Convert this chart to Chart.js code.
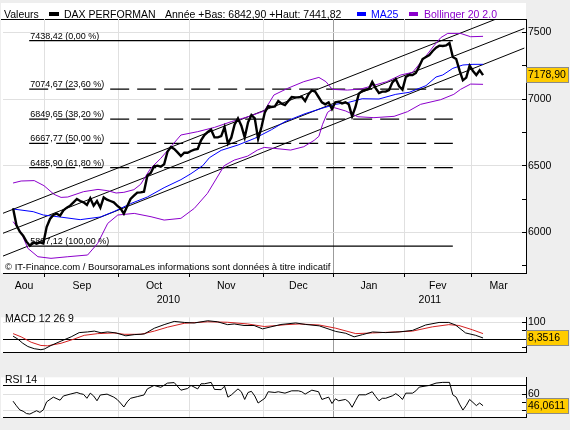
<!DOCTYPE html>
<html>
<head>
<meta charset="utf-8">
<title>DAX PERFORMAN</title>
<script src="https://cdn.jsdelivr.net/npm/chart.js@4.4.1/dist/chart.umd.min.js"></script>
<style>
  html, body { margin: 0; padding: 0; background: #eeeeee; }
  #wrap { position: relative; width: 570px; height: 430px; overflow: hidden; }
  canvas { position: absolute; left: 0; }
</style>
</head>
<body>
<div id="wrap">
  <canvas id="mainChart" width="570" height="305" style="top:0px"></canvas>
  <canvas id="macdChart" width="570" height="60" style="top:305px"></canvas>
  <canvas id="rsiChart" width="570" height="65" style="top:365px"></canvas>
</div>
<script>
// x = trading day index (0 = 18 aout 2010, 140 = 4 mars 2011)
const monthNames = ['Aou', 'Sep', 'Oct', 'Nov', 'Dec', 'Jan', 'Fev', 'Mar'];
const monthBreaks = [9.5, 31.5, 52.5, 74.5, 95.5, 116.5, 136.5];
const yearNames = ['2010', '2011'];
const yearBreak = 95.5;
const X_MIN = -3, X_MAX = 152.8;

// DAX close
const closeValues = [
  6180, 6055, 6005, 5975, 5930, 5900, 5925, 5915, 5925, 5917,
  6040, 6100, 6130, 6140, 6125, 6165, 6185, 6200, 6225, 6250,
  6235, 6225, 6205, 6255, 6200, 6235, 6185, 6262, 6245, 6235,
  6225, 6200, 6180, 6140, 6195, 6250, 6275, 6298, 6300, 6305,
  6425, 6445, 6495, 6500, 6492, 6510, 6605, 6640, 6625, 6600,
  6572, 6597, 6597, 6610, 6620, 6625, 6690, 6730, 6752, 6770,
  6712, 6712, 6722, 6790, 6667, 6710, 6810, 6855, 6800, 6712,
  6825, 6880, 6855, 6700, 6790, 6900, 6947, 6940, 6945, 6985,
  6965, 6955, 6985, 7015, 7012, 7012, 7017, 6985, 7035, 7065,
  7055, 7015, 6975, 6960, 6975, 6925, 6975, 6980, 6967, 6975,
  6960, 6870, 6940, 7040, 7060, 7068, 7075, 7128, 7082, 7045,
  7055, 7055, 7067, 7125, 7150, 7095, 7070, 7165, 7180, 7180,
  7195, 7245, 7300, 7315, 7330, 7360, 7385, 7400, 7398, 7402,
  7420, 7315, 7300, 7215, 7140, 7160, 7250, 7210, 7180, 7215,
  7178.90
];

// MA25
const maIdx = [0, 6, 9, 14, 20, 26, 30, 35, 40, 45, 50, 53, 56.5, 58.5, 62, 67, 72, 77, 81, 87,
  92, 96, 100, 104, 109, 114, 118, 121, 123, 126, 128, 131, 134, 137, 140];
const maValues = [6175, 6155, 6130, 6115, 6095, 6115, 6155, 6215, 6265, 6335, 6395, 6440, 6500, 6560, 6615, 6655, 6705, 6770, 6830, 6890,
  6930, 6960, 6975, 7002, 7000, 7035, 7050, 7080, 7100, 7165, 7180, 7230, 7255, 7260, 7260];

// Bollinger 20 2.0
const bollUpIdx = [0, 2.4, 6.3, 9.2, 12.2, 14.3, 16.3, 21, 25.3, 28.2, 30.7, 33, 36, 38, 41, 44, 47, 50, 55, 60,
  65, 70, 74.8, 77.7, 81.8, 86.6, 91.1, 93.2, 95.1, 99.6, 103.6, 106.5, 111.3, 115.5, 119, 122.3, 125.4, 127.4, 129.5, 133.3,
  136.3, 140];
const bollUpValues = [6370, 6385, 6388, 6350, 6285, 6262, 6265, 6305, 6322, 6312, 6295, 6300, 6320, 6360, 6480, 6555, 6642, 6730, 6755, 6787,
  6830, 6867, 6910, 7030, 7080, 7130, 7162, 7130, 7072, 7067, 7075, 7095, 7130, 7180, 7200, 7300, 7400, 7460, 7492, 7492,
  7467, 7470];
const bollLowIdx = [0, 2.4, 4.4, 7.4, 11.3, 16.3, 22.2, 25.2, 28.2, 31.2, 36.1, 41.1, 45, 50, 54, 57.9, 62.9, 65.9, 69.9, 72.8,
  74.8, 77.7, 82.7, 86.6, 89.7, 91.1, 92.2, 93.7, 95.7, 99.1, 102.7, 107.5, 113.5, 117.5, 121.4, 127.4, 131.3, 133.3, 136.3, 140];
const bollLowValues = [6080, 6000, 5880, 5817, 5805, 5817, 5830, 5917, 6067, 6130, 6142, 6117, 6092, 6105, 6180, 6292, 6500, 6542, 6572, 6617,
  6637, 6630, 6617, 6642, 6690, 6720, 6810, 6900, 6935, 6910, 6867, 6860, 6870, 6905, 6960, 6995, 7035, 7072, 7112, 7110];

// Fibonacci retracements
const fibLevels = [7438.42, 7074.67, 6849.65, 6667.77, 6485.90, 5897.12];
const fibPercents = [0, 23.6, 38.2, 50, 61.8, 100];
const fibDashed = [false, true, true, true, true, false];
const fibRange = [4.8, 131];

// trend channel
const channelIdx = [-3, 152.3];
const channelUpper = [6143, 7683];
const channelMiddle = [5993, 7529];
const channelLower = [5822, 7382];

const priceTicks = [5750, 6000, 6250, 6500, 6750, 7000, 7250, 7500];
const yearLow = 6842.90, yearHigh = 7441.82;

// MACD 12 26 9
const macdIdx = [0, 1.4, 2.9, 4.4, 6.3, 8.3, 9.3, 11.3, 14.3, 17.3, 19.7, 22.2, 24.2, 26.2, 28.2, 30.7, 33.6, 36.1, 39.1, 42.1,
  45, 48, 51, 54, 58, 60.9, 63.9, 65.9, 68.8, 71.8, 74.3, 76.8, 79.8, 81.3, 84.2, 87.2, 91.2, 96.1, 99.1, 101.6,
  104.1, 107.1, 111, 115, 119, 122.9, 126.9, 129.8, 131.8, 134.8, 137.8, 140];
const macdValues = [19, 2, -23, -42, -55, -61, -57, -36, -10, 15, 40, 44, 49, 39, 44, 38, 21, 28, 32, 66,
  87, 106, 100, 97, 110, 104, 87, 91, 82, 82, 62, 74, 88, 91, 97, 88, 80, 47, 36, 15,
  28, 44, 40, 44, 53, 85, 100, 100, 85, 38, 24, 8.3516];
const signalIdx = [0, 2.4, 5.4, 8.3, 10.3, 14.3, 18.2, 21.2, 25.2, 30.1, 33.1, 38.1, 42.1, 46, 51, 58, 63.9, 69.9, 74.8, 78.8,
  81.3, 85.2, 91.2, 96.1, 102.1, 107.1, 114, 119, 124.9, 129.8, 132.8, 136.8, 140];
const signalValues = [34, 15, -17, -36, -38, -23, 2, 24, 34, 38, 30, 30, 49, 72, 95, 104, 101, 91, 76, 82,
  87, 91, 85, 66, 34, 38, 44, 49, 74, 87, 82, 57, 34];
const macdTicks = [-50, 0, 50, 100];

// RSI 14
const rsiIdx = [0, 1, 2, 3, 4, 5, 6, 7, 8, 9, 10, 11, 12, 14, 15, 17, 19, 20, 21, 22,
  23, 24, 25, 26, 28, 30, 31, 32, 33, 34, 35, 37, 39, 40, 42, 44, 46, 48, 50, 52,
  53, 55, 56, 57, 59, 60, 62, 63, 64, 65, 67, 68, 69, 70, 71, 72, 73, 75, 76, 78,
  79, 81, 83, 85, 86, 87, 89, 91, 92, 93, 94, 95, 96, 97, 99, 100, 101, 102, 103, 105,
  107, 108, 109, 110, 111, 113, 114, 115, 116, 117, 119, 120, 121, 124, 126, 128, 130, 131, 132, 133,
  134, 135, 136, 137, 138, 139, 140];
const rsiValues = [51.5, 46, 41, 39.4, 36.6, 36, 38, 40, 38, 41, 50.7, 53.6, 56.4, 52.7, 57.8, 60, 62, 60.6, 59.7, 55,
  61.2, 57.8, 52, 59, 60, 56.4, 53.6, 49.3, 44.5, 50.7, 55, 57, 59, 66.3, 70.5, 68.2, 73.3, 73.9, 64.8, 66.8,
  70.5, 66.3, 72.5, 72.5, 74.2, 65.7, 65.4, 69.6, 56.4, 59, 66.3, 62.9, 53.6, 62, 63.4, 57.8, 49.3, 55, 62.9, 62,
  62.9, 61.2, 64, 64, 62.9, 60, 64.8, 62.9, 53.6, 55, 56.4, 48.7, 54.4, 52, 53.6, 50.7, 44.2, 52, 59.2, 59.2,
  62.9, 57.2, 52, 55, 55, 58, 60.6, 57.8, 53.6, 61.2, 61.2, 64, 68.5, 70.5, 73.3, 74.2, 74.2, 59.2, 56.4, 48,
  40.8, 46.4, 53.6, 50, 46.2, 49.3, 46.0611];
const rsiTicks = [40, 50, 60, 70];

const FONT = "'Liberation Sans', Arial, sans-serif";
const BLUE = '#0000ff', PURPLE = '#8c00cc', RED = '#d42020';
const GRID = '#e0e0e0', YEAR_GRID = '#9c9c9c', BG = '#eeeeee';

Chart.defaults.font.family = FONT;
Chart.defaults.font.size = 10.5;
Chart.defaults.color = '#000';

function pts(idx, vals) {
  return idx.map((x, i) => ({ x: x, y: vals[i] }));
}
function fr(v, d) {
  return v.toFixed(d).replace('.', ',');
}
function lineSet(data, color, width, dash) {
  return {
    data: data, borderColor: color, borderWidth: width, borderDash: dash || [],
    pointRadius: 0, tension: 0, fill: false
  };
}

function xAxis(height, drawTicks) {
  return {
    type: 'linear', min: X_MIN, max: X_MAX,
    afterBuildTicks: s => { s.ticks = monthBreaks.map(v => ({ value: v })); },
    ticks: { display: false },
    grid: {
      color: c => (c.tick && c.tick.value === yearBreak) ? YEAR_GRID : GRID,
      drawTicks: drawTicks, tickLength: 4, tickColor: '#000'
    },
    border: { display: true, color: '#000' },
    afterFit: s => { s.height = height; }
  };
}

function yAxis(min, max, ticks, labelStep, gridColor) {
  return {
    type: 'linear', position: 'right', min: min, max: max,
    afterBuildTicks: s => { s.ticks = ticks.map(v => ({ value: v })); },
    ticks: {
      autoSkip: false, padding: 6,
      callback: v => (v % labelStep === 0 ? String(v) : '')
    },
    grid: { color: gridColor, tickLength: -4, tickColor: '#000' },
    border: { display: true, color: '#000' },
    afterFit: s => { s.width = 44; }
  };
}

function paintPanel(chart) {
  const { ctx, chartArea: a } = chart;
  ctx.save();
  ctx.fillStyle = BG;
  ctx.fillRect(0, 0, chart.width, chart.height);
  ctx.fillStyle = '#ffffff';
  ctx.fillRect(1, a.top, a.right - 1, a.bottom - a.top);
  ctx.restore();
}

function valueBox(chart, value, text) {
  const { ctx, chartArea: a } = chart;
  const y = Math.round(chart.scales.y.getPixelForValue(value));
  ctx.save();
  ctx.fillStyle = '#ffcc00';
  ctx.fillRect(a.right, y - 8, 43, 16);
  ctx.strokeStyle = '#8a8a8a';
  ctx.lineWidth = 1;
  ctx.strokeRect(a.right + 0.5, y - 7.5, 42, 15);
  ctx.fillStyle = '#000';
  ctx.font = '10.5px ' + FONT;
  ctx.textAlign = 'left';
  ctx.textBaseline = 'middle';
  ctx.fillText(text, a.right + 2, y + 0.5);
  ctx.restore();
}

function panelLabel(chart, text, y) {
  const ctx = chart.ctx;
  ctx.save();
  ctx.fillStyle = '#000';
  ctx.font = '10.5px ' + FONT;
  ctx.textAlign = 'left';
  ctx.textBaseline = 'alphabetic';
  ctx.fillText(text, 5, y);
  ctx.restore();
}

const mainDecor = {
  id: 'mainDecor',
  beforeDraw(chart) {
    const { ctx, chartArea: a } = chart;
    ctx.save();
    ctx.fillStyle = BG;
    ctx.fillRect(0, 0, chart.width, chart.height);
    ctx.fillStyle = '#ffffff';
    ctx.fillRect(1, 3, a.right - 1, a.bottom - 3);
    ctx.strokeStyle = '#000';
    ctx.lineWidth = 1;
    ctx.beginPath();
    ctx.moveTo(1, a.top + 0.5);
    ctx.lineTo(a.right, a.top + 0.5);
    ctx.stroke();
    ctx.restore();
  },
  afterDatasetsDraw(chart) {
    const { ctx, scales: { x, y } } = chart;
    ctx.save();
    ctx.fillStyle = '#000';
    ctx.font = '9px ' + FONT;
    ctx.textAlign = 'left';
    ctx.textBaseline = 'alphabetic';
    fibLevels.forEach((lv, i) => {
      const txt = fr(lv, 2) + ' (' + fr(fibPercents[i], 2) + ' %)';
      ctx.fillText(txt, x.getPixelForValue(fibRange[0]) + 1, y.getPixelForValue(lv) - 2);
    });
    ctx.font = '9.5px ' + FONT;
    ctx.textBaseline = 'middle';
    ctx.fillText('\u00a9 IT-Finance.com / BoursoramaLes informations sont donn\u00e9es \u00e0 titre indicatif', 5, 267);
    ctx.restore();
  },
  afterDraw(chart) {
    const { ctx, scales: { x } } = chart;
    ctx.save();
    ctx.font = '10.5px ' + FONT;
    ctx.textBaseline = 'alphabetic';
    ctx.textAlign = 'left';
    // header
    ctx.fillStyle = '#000';
    ctx.fillText('Valeurs', 4, 17.5);
    ctx.fillRect(49, 12, 10, 4);
    ctx.fillText('DAX PERFORMAN', 64, 17.5);
    ctx.fillText('Ann\u00e9e +Bas: ' + fr(yearLow, 2) + ' +Haut: ' + fr(yearHigh, 2), 165, 17.5);
    ctx.fillStyle = BLUE;
    ctx.fillRect(357, 12, 9, 4);
    ctx.fillText('MA25', 371, 17.5);
    ctx.fillStyle = PURPLE;
    ctx.fillRect(409, 12, 9, 4);
    ctx.fillText('Bollinger 20 2.0', 424, 17.5);
    // months and years
    ctx.fillStyle = '#000';
    ctx.textAlign = 'center';
    const edges = [X_MIN].concat(monthBreaks, [X_MAX]);
    monthNames.forEach((m, i) => {
      const cx = (x.getPixelForValue(edges[i]) + x.getPixelForValue(edges[i + 1])) / 2;
      ctx.fillText(m, cx, 288.5);
    });
    const yEdges = [X_MIN, yearBreak, X_MAX];
    yearNames.forEach((yr, i) => {
      const cx = (x.getPixelForValue(yEdges[i]) + x.getPixelForValue(yEdges[i + 1])) / 2;
      ctx.fillText(yr, cx, 303);
    });
    ctx.restore();
    valueBox(chart, closeValues[closeValues.length - 1], fr(closeValues[closeValues.length - 1], 2));
  }
};

const closePts = closeValues.map((v, i) => ({ x: i, y: v }));
const mainSets = [
  lineSet(closePts, '#000', 2.4),
  lineSet(pts(maIdx, maValues), BLUE, 1),
  lineSet(pts(bollUpIdx, bollUpValues), PURPLE, 1),
  lineSet(pts(bollLowIdx, bollLowValues), PURPLE, 1),
  lineSet(pts(channelIdx, channelUpper), '#000', 1),
  lineSet(pts(channelIdx, channelMiddle), '#000', 1),
  lineSet(pts(channelIdx, channelLower), '#000', 1)
];
fibLevels.forEach((lv, i) => {
  mainSets.push(lineSet(pts(fibRange, [lv, lv]), '#000', 1.3, fibDashed[i] ? [19, 8] : []));
});

new Chart(document.getElementById('mainChart'), {
  type: 'line',
  data: { datasets: mainSets },
  options: {
    responsive: false, animation: false, devicePixelRatio: 1, events: [],
    layout: { padding: { left: 3, top: 19, right: 0, bottom: 0 } },
    plugins: { legend: { display: false }, tooltip: { enabled: false } },
    scales: {
      x: xAxis(32, true),
      y: yAxis(5695, 7600, priceTicks, 500,
        c => (c.tick && c.tick.value % 500 === 0) ? GRID : 'rgba(0,0,0,0)')
    }
  },
  plugins: [mainDecor]
});

new Chart(document.getElementById('macdChart'), {
  type: 'line',
  data: {
    datasets: [
      lineSet(pts(macdIdx, macdValues), '#000', 1),
      lineSet(pts(signalIdx, signalValues), RED, 1)
    ]
  },
  options: {
    responsive: false, animation: false, devicePixelRatio: 1, events: [],
    layout: { padding: { left: 3, top: 3, right: 0, bottom: 0 } },
    plugins: { legend: { display: false }, tooltip: { enabled: false } },
    scales: {
      x: xAxis(2, false),
      y: yAxis(-78.7, 130.4, macdTicks, 100,
        c => !c.tick ? 'rgba(0,0,0,0)' : c.tick.value === 0 ? '#000' : c.tick.value === 100 ? GRID : 'rgba(0,0,0,0)')
    }
  },
  plugins: [{
    id: 'macdDecor',
    beforeDraw: paintPanel,
    afterDatasetsDraw(chart) { panelLabel(chart, 'MACD 12 26 9', 17); },
    afterDraw(chart) { valueBox(chart, macdValues[macdValues.length - 1], fr(macdValues[macdValues.length - 1], 4)); }
  }]
});

new Chart(document.getElementById('rsiChart'), {
  type: 'line',
  data: {
    datasets: [lineSet(pts(rsiIdx, rsiValues), '#000', 1)]
  },
  options: {
    responsive: false, animation: false, devicePixelRatio: 1, events: [],
    layout: { padding: { left: 3, top: 3, right: 0, bottom: 0 } },
    plugins: { legend: { display: false }, tooltip: { enabled: false } },
    scales: {
      x: xAxis(6, false),
      y: yAxis(31.6, 80.3, rsiTicks, 20,
        c => !c.tick ? 'rgba(0,0,0,0)' : c.tick.value === 70 ? '#000' : c.tick.value % 20 === 0 ? GRID : 'rgba(0,0,0,0)')
    }
  },
  plugins: [{
    id: 'rsiDecor',
    beforeDraw: paintPanel,
    afterDatasetsDraw(chart) { panelLabel(chart, 'RSI 14', 18); },
    afterDraw(chart) { valueBox(chart, rsiValues[rsiValues.length - 1], fr(rsiValues[rsiValues.length - 1], 4)); }
  }]
});
</script>
</body>
</html>
